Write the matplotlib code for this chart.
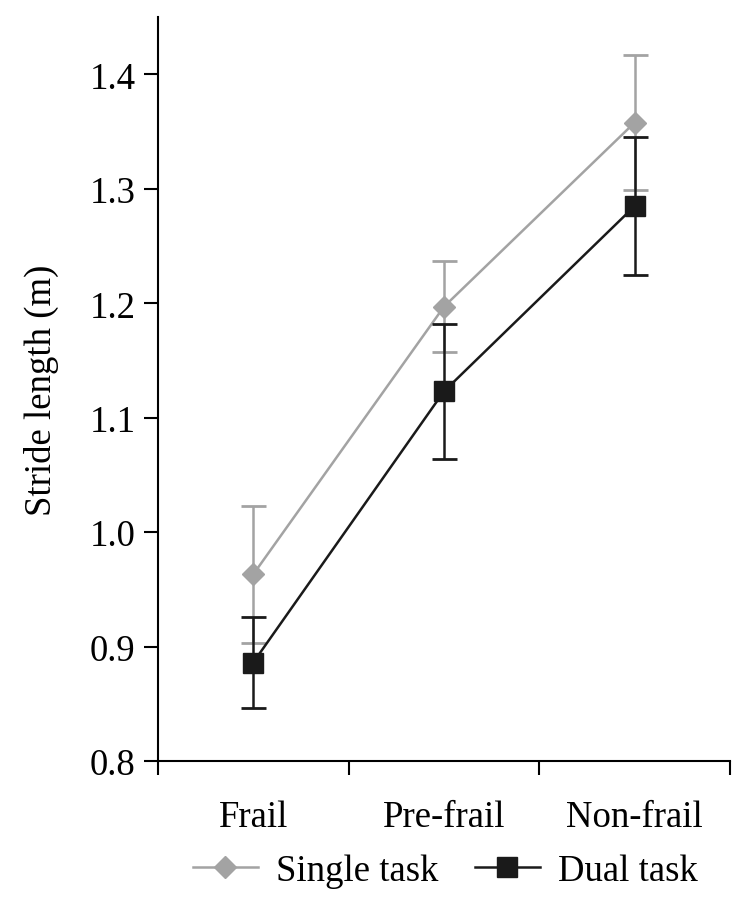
import matplotlib
matplotlib.use("Agg")
import matplotlib.pyplot as plt
from matplotlib.lines import Line2D

groups = ["Frail", "Pre-frail", "Non-frail"]
single_mean = [0.963, 1.197, 1.358]
single_err = [0.060, 0.040, 0.059]
dual_mean = [0.886, 1.123, 1.285]
dual_err = [0.040, 0.059, 0.060]
y_ticks = [0.8, 0.9, 1.0, 1.1, 1.2, 1.3, 1.4]

plt.rcParams['font.family'] = ['Liberation Serif', 'DejaVu Serif']
plt.rcParams['font.size'] = 26.5

fig = plt.figure(figsize=(7.55, 9.12), dpi=100)
ax = fig.add_axes([0.209, 0.1645, 0.758, 0.8155])

x = list(range(len(groups)))
gray = "#a3a3a3"
black = "#1a1a1a"

ax.errorbar(x, single_mean, yerr=single_err, color=gray, marker="D", markersize=11,
            lw=1.8, elinewidth=1.8, capsize=9, capthick=2, zorder=2)
ax.errorbar(x, dual_mean, yerr=dual_err, color=black, marker="s", markersize=15,
            lw=1.8, elinewidth=1.8, capsize=9, capthick=2, zorder=3)

ax.set_xlim(-0.5, 2.5)
ax.set_ylim(0.8, 1.45)
ax.set_yticks(y_ticks)
ax.set_yticklabels([f"{v:.1f}" for v in y_ticks])
ax.set_xticks([-0.5, 0.5, 1.5, 2.5])
ax.set_xticklabels([])
ax.set_xticks(x, minor=True)
ax.set_xticklabels(groups, minor=True)
ax.tick_params(axis="x", which="minor", length=0, pad=28)
ax.tick_params(axis="x", which="major", direction="out", length=10, width=1.5)
ax.tick_params(axis="y", direction="out", length=10, width=1.5, pad=6)

for s in ["top", "right"]:
    ax.spines[s].set_visible(False)
for s in ["left", "bottom"]:
    ax.spines[s].set_linewidth(1.5)

ax.set_ylabel("Stride length (m)", labelpad=22)

handles = [
    Line2D([], [], color=gray, marker="D", markersize=11, lw=1.8),
    Line2D([], [], color=black, marker="s", markersize=15, lw=1.8),
]
fig.legend(handles, ["Single task", "Dual task"], loc="center",
           bbox_to_anchor=(0.59, 0.044), ncol=2, frameon=False,
           handlelength=1.75, columnspacing=1.0, handletextpad=0.5)

fig.savefig("out.png", dpi=100)
